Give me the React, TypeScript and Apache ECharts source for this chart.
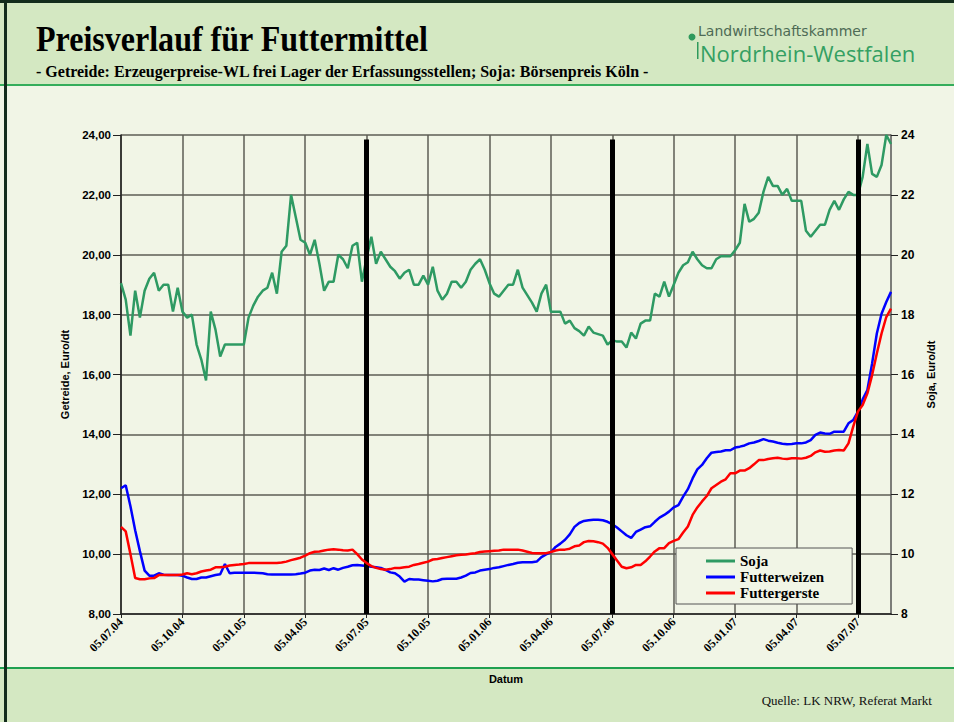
import React, { useEffect, useRef } from "react";
import * as echarts from "echarts";

// Tick labels on the date axis (one every 13 weeks)
const tickLabels = [
  "05.07.04", "05.10.04", "05.01.05", "05.04.05", "05.07.05", "05.10.05", "05.01.06",
  "05.04.06", "05.07.06", "05.10.06", "05.01.07", "05.04.07", "05.07.07",
];
const weeksPerTick = 13;

// Harvest markers (thick black bars)
const harvestMarks = ["05.07.05", "05.07.06", "05.07.07"];
const harvestTop = 23.85;

// Soja (Börsenpreis Köln), Euro/dt, weekly
const soja = [
  19.05, 18.5, 17.3, 18.8, 17.9, 18.8, 19.2, 19.4, 18.8, 19.0, 19.0, 18.1, 18.9,
  18.1, 17.9, 18.0, 17.0, 16.5, 15.8, 18.1, 17.5, 16.6, 17.0, 17.0, 17.0, 17.0,
  17.0, 17.9, 18.3, 18.6, 18.8, 18.9, 19.4, 18.7, 20.1, 20.3, 22.0, 21.25, 20.5,
  20.4, 20.0, 20.5, 19.7, 18.8, 19.1, 19.1, 20.0, 19.85, 19.55, 20.3, 20.4, 19.1,
  19.9, 20.6, 19.7, 20.1, 19.85, 19.6, 19.45, 19.2, 19.4, 19.5, 19.0, 19.0, 19.3,
  19.0, 19.6, 18.8, 18.5, 18.7, 19.1, 19.1, 18.9, 19.1, 19.5, 19.7, 19.85, 19.5,
  19.05, 18.7, 18.6, 18.8, 19.0, 19.0, 19.5, 18.9, 18.65, 18.4, 18.1, 18.7, 19.0,
  18.1, 18.1, 18.1, 17.7, 17.8, 17.55, 17.45, 17.3, 17.6, 17.4, 17.35, 17.3, 17.0,
  17.15, 17.1, 17.1, 16.9, 17.4, 17.2, 17.7, 17.8, 17.8, 18.7, 18.6, 19.1, 18.6,
  19.0, 19.4, 19.65, 19.75, 20.1, 19.85, 19.65, 19.55, 19.55, 19.85, 19.95, 19.95, 19.95,
  20.15, 20.4, 21.7, 21.1, 21.2, 21.4, 22.1, 22.6, 22.3, 22.3, 22.0, 22.2, 21.8,
  21.8, 21.8, 20.8, 20.6, 20.8, 21.0, 21.0, 21.5, 21.8, 21.5, 21.85, 22.1, 22.0,
  22.0, 22.6, 23.7, 22.7, 22.6, 23.0, 24.0, 23.7,
];

// Futterweizen, Euro/dt, weekly
const futterweizen = [
  12.2, 12.3, 11.6, 10.8, 10.1, 9.45, 9.28, 9.28, 9.36, 9.31, 9.3, 9.3, 9.3,
  9.28, 9.22, 9.17, 9.17, 9.22, 9.22, 9.26, 9.3, 9.33, 9.67, 9.36, 9.38, 9.38,
  9.38, 9.38, 9.38, 9.37, 9.36, 9.33, 9.32, 9.32, 9.32, 9.32, 9.32, 9.33, 9.35,
  9.38, 9.45, 9.48, 9.47, 9.52, 9.47, 9.53, 9.48, 9.54, 9.58, 9.63, 9.64, 9.62,
  9.6, 9.58, 9.56, 9.54, 9.47, 9.39, 9.36, 9.25, 9.08, 9.17, 9.15, 9.15, 9.13,
  9.11, 9.09, 9.11, 9.17, 9.18, 9.18, 9.18, 9.22, 9.28, 9.37, 9.39, 9.45, 9.48,
  9.5, 9.54, 9.56, 9.6, 9.64, 9.67, 9.71, 9.73, 9.73, 9.73, 9.75, 9.9, 9.99,
  10.07, 10.24, 10.35, 10.48, 10.66, 10.91, 11.04, 11.11, 11.13, 11.15, 11.15, 11.13, 11.08,
  11.0, 10.89, 10.76, 10.63, 10.54, 10.74, 10.82, 10.9, 10.93, 11.08, 11.22, 11.31, 11.42,
  11.56, 11.64, 11.92, 12.17, 12.53, 12.83, 12.98, 13.2, 13.39, 13.41, 13.43, 13.47, 13.47,
  13.56, 13.59, 13.63, 13.7, 13.73, 13.78, 13.84, 13.79, 13.76, 13.72, 13.69, 13.67, 13.68,
  13.7, 13.7, 13.73, 13.81, 13.98, 14.06, 14.03, 14.02, 14.09, 14.09, 14.09, 14.37, 14.48,
  14.76, 15.17, 15.48, 16.37, 17.37, 18.03, 18.42, 18.76,
];

// Futtergerste, Euro/dt, weekly
const futtergerste = [
  10.91, 10.76, 10.0, 9.2, 9.16, 9.16, 9.19, 9.2, 9.3, 9.3, 9.3, 9.3, 9.3,
  9.32, 9.36, 9.33, 9.36, 9.42, 9.45, 9.48, 9.56, 9.56, 9.58, 9.62, 9.64, 9.65,
  9.67, 9.7, 9.7, 9.7, 9.7, 9.7, 9.7, 9.7, 9.72, 9.75, 9.8, 9.84, 9.88,
  9.95, 10.03, 10.08, 10.09, 10.12, 10.15, 10.16, 10.15, 10.13, 10.12, 10.15, 10.0, 9.82,
  9.7, 9.6, 9.54, 9.5, 9.48, 9.5, 9.54, 9.54, 9.56, 9.58, 9.64, 9.67, 9.71,
  9.75, 9.82, 9.84, 9.87, 9.9, 9.93, 9.96, 9.98, 9.99, 10.01, 10.03, 10.07, 10.09,
  10.1, 10.11, 10.12, 10.15, 10.15, 10.15, 10.15, 10.12, 10.08, 10.04, 10.03, 10.03, 10.03,
  10.07, 10.12, 10.15, 10.15, 10.18, 10.26, 10.29, 10.4, 10.44, 10.43, 10.4, 10.35, 10.21,
  10.0, 9.79, 9.58, 9.53, 9.56, 9.64, 9.64, 9.76, 9.92, 10.09, 10.2, 10.2, 10.37,
  10.44, 10.5, 10.72, 10.92, 11.31, 11.56, 11.76, 11.94, 12.2, 12.31, 12.42, 12.5, 12.7,
  12.7, 12.79, 12.79, 12.87, 13.0, 13.14, 13.14, 13.18, 13.2, 13.22, 13.19, 13.18, 13.2,
  13.2, 13.19, 13.22, 13.28, 13.4, 13.46, 13.42, 13.43, 13.46, 13.48, 13.46, 13.7, 14.26,
  14.76, 14.98, 15.37, 15.98, 16.7, 17.37, 17.92, 18.2,
];

const categories = soja.map((_, i) =>
  i % weeksPerTick === 0 ? tickLabels[i / weeksPerTick] : `KW${i}`
);

const isTick = (i: number) => i % weeksPerTick === 0;

export default function App() {
  const ref = useRef<HTMLDivElement>(null);

  useEffect(() => {
    if (!ref.current) return;
    const chart = echarts.init(ref.current, undefined, { renderer: "svg" });
    const gridColor = "#5c5c54";
    const serif = "'Liberation Serif', 'Times New Roman', serif";
    const sans = "'Liberation Sans', Arial, sans-serif";

    const option: any = {
      animation: false,
      backgroundColor: "#f1f5e6",
      graphic: [
        { type: "rect", z: -10, shape: { x: 0, y: 0, width: 954, height: 85 }, style: { fill: "#d4e8c2" } },
        { type: "rect", z: -9, shape: { x: 0, y: 84, width: 954, height: 2 }, style: { fill: "#35ad5b" } },
        { type: "rect", z: -10, shape: { x: 0, y: 668, width: 954, height: 54 }, style: { fill: "#d4e8c2" } },
        { type: "rect", z: -9, shape: { x: 0, y: 667, width: 954, height: 2 }, style: { fill: "#1fa050" } },
        { type: "rect", z: -8, shape: { x: 0, y: 0, width: 954, height: 3 }, style: { fill: "#132c1c" } },
        { type: "rect", z: -8, shape: { x: 4, y: 0, width: 3, height: 722 }, style: { fill: "#132c1c" } },
        {
          type: "text", z: 50, x: 36, y: 39, scaleX: 0.89,
          style: { text: "Preisverlauf für Futtermittel", fontSize: 36, fontWeight: "bold", fontFamily: serif, fill: "#000", textVerticalAlign: "middle" },
        },
        {
          type: "text", z: 50, x: 36, y: 71,
          style: { text: "- Getreide: Erzeugerpreise-WL frei Lager der Erfassungsstellen; Soja: Börsenpreis Köln -", fontSize: 16, fontWeight: "bold", fontFamily: serif, fill: "#000", textVerticalAlign: "middle" },
        },
        { type: "circle", z: 50, shape: { cx: 692, cy: 37, r: 3.5 }, style: { fill: "#2f9a5c" } },
        { type: "rect", z: 50, shape: { x: 697, y: 42, width: 1.5, height: 17 }, style: { fill: "#2f9a5c" } },
        {
          type: "text", z: 50, x: 698, y: 31,
          style: { text: "Landwirtschaftskammer", fontSize: 14, fontFamily: "'DejaVu Sans', 'Noto Sans', sans-serif", fill: "#4e6b55", textVerticalAlign: "middle" },
        },
        {
          type: "text", z: 50, x: 700, y: 53,
          style: { text: "Nordrhein-Westfalen", fontSize: 22, fontFamily: "'Open Sans', 'Noto Sans', sans-serif", fill: "#34a063", textVerticalAlign: "middle" },
        },
        {
          type: "text", z: 50, x: 506, y: 679,
          style: { text: "Datum", fontSize: 11, fontWeight: "bold", fontFamily: sans, fill: "#000", textAlign: "center", textVerticalAlign: "middle" },
        },
        {
          type: "text", z: 50, x: 932, y: 700,
          style: { text: "Quelle: LK NRW, Referat Markt", fontSize: 13, fontFamily: serif, fill: "#111", textAlign: "right", textVerticalAlign: "middle" },
        },
      ],
      grid: { left: 121, top: 135, width: 770, height: 479, containLabel: false },
      legend: {
        orient: "vertical",
        left: 676,
        top: 548,
        data: ["Soja", "Futterweizen", "Futtergerste"],
        icon: "rect",
        itemWidth: 29,
        itemHeight: 3,
        itemGap: 0,
        padding: [5, 28, 3, 30],
        backgroundColor: "#f1f5e6",
        borderColor: "#555",
        borderWidth: 1,
        textStyle: { fontFamily: serif, fontWeight: "bold", fontSize: 15, lineHeight: 16, color: "#000" },
      },
      xAxis: {
        type: "category",
        data: categories,
        boundaryGap: false,
        axisLine: { lineStyle: { color: "#222", width: 1.5 } },
        axisTick: { show: true, interval: (i: number) => isTick(i), length: 4, lineStyle: { color: "#222" } },
        axisLabel: {
          interval: (i: number) => isTick(i),
          rotate: 45,
          margin: 6,
          fontFamily: serif,
          fontWeight: "bold",
          fontSize: 12,
          color: "#000",
        },
        splitLine: { show: true, interval: (i: number) => isTick(i), lineStyle: { color: gridColor, width: 1.5 } },
      },
      yAxis: [
        {
          type: "value",
          min: 8,
          max: 24,
          interval: 2,
          name: "Getreide, Euro/dt",
          nameLocation: "middle",
          nameGap: 51,
          nameRotate: 90,
          nameTextStyle: { fontFamily: sans, fontWeight: "bold", fontSize: 11, color: "#000" },
          axisLine: { show: true, lineStyle: { color: "#222", width: 1.5 } },
          axisTick: { show: true, length: 8, lineStyle: { color: "#222" } },
          axisLabel: {
            margin: 10,
            fontFamily: sans,
            fontWeight: "bold",
            fontSize: 11.5,
            color: "#000",
            formatter: (v: number) => v.toFixed(2).replace(".", ","),
          },
          splitLine: { show: true, lineStyle: { color: gridColor, width: 1.5 } },
        },
        {
          type: "value",
          min: 8,
          max: 24,
          interval: 2,
          position: "right",
          name: "Soja, Euro/dt",
          nameLocation: "middle",
          nameGap: 34,
          nameRotate: 90,
          nameTextStyle: { fontFamily: sans, fontWeight: "bold", fontSize: 11, color: "#000" },
          axisLine: { show: true, lineStyle: { color: "#555", width: 1.5 } },
          axisTick: { show: true, length: 7, lineStyle: { color: "#222" } },
          axisLabel: { margin: 10, fontFamily: sans, fontWeight: "bold", fontSize: 12, color: "#000", formatter: (v: number) => String(v) },
          splitLine: { show: false },
        },
      ],
      series: [
        {
          name: "Soja", type: "line", data: soja, yAxisIndex: 0, showSymbol: false,
          lineStyle: { color: "#2e9a63", width: 2.5 }, itemStyle: { color: "#2e9a63" }, z: 3,
        },
        {
          name: "Futterweizen", type: "line", data: futterweizen, yAxisIndex: 0, showSymbol: false,
          lineStyle: { color: "#0000ff", width: 2.5 }, itemStyle: { color: "#0000ff" }, z: 4,
        },
        {
          name: "Futtergerste", type: "line", data: futtergerste, yAxisIndex: 0, showSymbol: false,
          lineStyle: { color: "#ff0000", width: 2.5 }, itemStyle: { color: "#ff0000" }, z: 5,
        },
        {
          name: "Ernte", type: "line", data: [], z: 10, silent: true,
          markLine: {
            silent: true,
            symbol: ["none", "none"],
            label: { show: false },
            lineStyle: { color: "#000", width: 5, type: "solid" },
            data: harvestMarks.map((m) => [
              { coord: [categories.indexOf(m), harvestTop] },
              { coord: [categories.indexOf(m), 8] },
            ]),
          },
        },
      ],
    };
    chart.setOption(option);
    return () => chart.dispose();
  }, []);

  return (
    <div
      ref={ref}
      style={{ position: "absolute", left: 0, top: 0, width: 954, height: 722 }}
    />
  );
}
